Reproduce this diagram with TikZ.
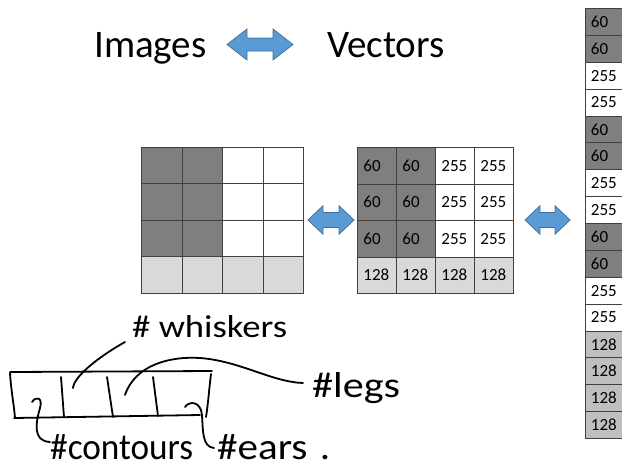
\documentclass[tikz,border=0pt]{standalone}
\usepackage{fontspec}
\setmainfont{Carlito}
\definecolor{darkg}{HTML}{7F7F7F}
\definecolor{lightg}{HTML}{D9D9D9}
\definecolor{midg}{HTML}{BFBFBF}
\definecolor{gline}{HTML}{404040}
\definecolor{arrfill}{HTML}{5B9BD5}
\definecolor{arrline}{HTML}{41719C}
\tikzset{
  cell/.style={draw=gline, line width=0.8pt, rectangle, inner xsep=6pt, inner ysep=0pt,
    align=left, font=\fontsize{17}{17}\selectfont, anchor=north west},
  title/.style={font=\fontsize{39}{46}\selectfont, anchor=base west, inner sep=0pt},
  hand/.style={line width=1.8pt, line cap=round, line join=round},
  handtext/.style={inner sep=0pt, anchor=base west},
  pics/dblarrow/.style args={#1/#2/#3/#4}{code={
    \filldraw[fill=arrfill, draw=arrline, line width=0.75pt]
      (-#1/2,0) -- (-#1/2+#2,#3) -- (-#1/2+#2,#4) -- (#1/2-#2,#4) -- (#1/2-#2,#3)
      -- (#1/2,0) -- (#1/2-#2,-#3) -- (#1/2-#2,-#4) -- (-#1/2+#2,-#4) -- (-#1/2+#2,-#3) -- cycle;
  }}
}
\begin{document}
\begin{tikzpicture}[x=1pt,y=-1pt]
\useasboundingbox (0,0) rectangle (622,467);
\clip (0,0) rectangle (622,467);

% title
\node[title] (img) at (94,57) {Images};
\node[title] (vec) at (327,57) {Vectors};
\pic at (260,44.5) {dblarrow=66/20/15.5/6.5};

% grids
\foreach \r in {0,...,3}{\foreach \c in {0,...,3}{
  \ifnum\r=3 \def\cc{lightg}\def\vv{128}\else\ifnum\c<2 \def\cc{darkg}\def\vv{60}\else\def\cc{white}\def\vv{255}\fi\fi
  \node[cell, fill=\cc, minimum width=40.5pt, minimum height=36.4pt] (L\r\c) at (141+\c*40.5, 147+\r*36.4) {};
  \node[cell, fill=\cc, text width=27pt, minimum height=36.5pt] (M\r\c) at (357+\c*39, 147+\r*36.5) {\vv};
}}
\pic at (331,220) {dblarrow=46/15/14.3/7.5};
\pic at (547.5,220) {dblarrow=45/15/14.3/7.5};

% vector column
\foreach \v [count=\i from 0] in {60,60,255,255,60,60,255,255,60,60,255,255,128,128,128,128}{
  \ifnum\v=60 \def\cc{darkg}\else\ifnum\v=255 \def\cc{white}\else\def\cc{midg}\fi\fi
  \node[cell, fill=\cc, text width=40pt, minimum height=26.875pt] (V\i) at (584.5, 8+\i*26.875) {\v};
}

% handwritten part
\node[handtext] (whisk) at (132,337) {\resizebox{155pt}{22pt}{\# whiskers}};
\node[handtext] (legs) at (312,397) {\resizebox{88pt}{25pt}{\#legs}};
\node[handtext] (cont) at (50,459) {\resizebox{143pt}{25pt}{\#contours}};
\node[handtext] (ears) at (217,459) {\resizebox{113pt}{25pt}{\#ears\kern3pt.}};

\coordinate (tl) at (10,372);
\coordinate (tr) at (212,371);
\coordinate (bl) at (14,418);
\coordinate (br) at (200,415);
\draw[hand] (tl) -- (tr);
\draw[hand] (10,373) .. controls (11,390) and (14,405) .. (15,418);
\draw[hand] (bl) -- (br);
\draw[hand] (211,374) .. controls (209,390) and (208,405) .. (206,417);
\draw[hand] (61,377) -- (64,417);
\draw[hand] (107,377) -- (113,417);
\draw[hand] (153,377) -- (158,416);

\coordinate (w0) at (73,388);
\coordinate (w1) at (125,342);
\draw[hand] (w0) .. controls (74,376) and (100,356) .. (w1);
\coordinate (l0) at (125,395);
\coordinate (l1) at (303,383);
\draw[hand] (l0) .. controls (135,365) and (170,356) .. (200,358) .. controls (240,361) and (272,382) .. (l1);
\coordinate (c0) at (32,402);
\coordinate (c1) at (50,442);
\draw[hand] (c0) .. controls (36,396) and (43,397) .. (40,408) .. controls (36,422) and (32,441) .. (c1);
\coordinate (e0) at (185,407);
\coordinate (e1) at (214,448);
\draw[hand] (e0) .. controls (190,400) and (201,402) .. (202,415) .. controls (203,430) and (202,447) .. (e1);
\end{tikzpicture}
\end{document}
